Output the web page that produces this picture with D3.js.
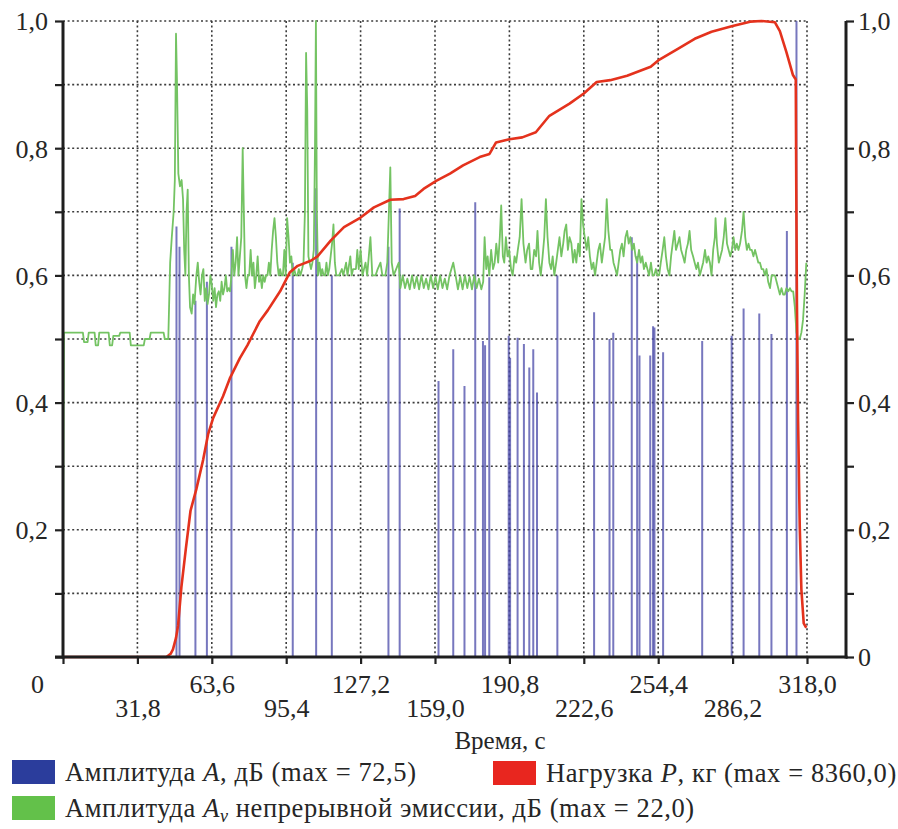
<!DOCTYPE html>
<html>
<head>
<meta charset="utf-8">
<script src="https://cdn.jsdelivr.net/npm/d3@7"></script>
<style>
  svg#chart text, svg#chart tspan { font-family: "Liberation Serif", "Times New Roman", serif !important; }
</style>
</head>
<body style="margin:0">
<svg id="chart" width="898" height="829"></svg>
<script>
// x ticks (time, s) and y ticks (normalized)
const xTicks = [0, 31.8, 63.6, 95.4, 127.2, 159.0, 190.8, 222.6, 254.4, 286.2, 318.0];
const xTickLabels = ["0", "31,8", "63,6", "95,4", "127,2", "159,0", "190,8", "222,6", "254,4", "286,2", "318,0"];
const yTicks = [0, 0.1, 0.2, 0.3, 0.4, 0.5, 0.6, 0.7, 0.8, 0.9, 1.0];
const yTickLabels = ["0", "", "0,2", "", "0,4", "", "0,6", "", "0,8", "", "1,0"];

// Amplitude A hits: [time, normalized amplitude]
const hits = [
  [48.5, 0.677], [49.8, 0.645], [56.6, 0.56], [61.5, 0.59], [72.0, 0.645],
  [98.2, 0.62], [108.2, 0.737], [114.9, 0.6], [139.1, 0.645], [143.9, 0.705],
  [160.5, 0.434], [166.8, 0.484], [171.6, 0.426], [176.2, 0.715], [179.5, 0.497],
  [180.4, 0.49], [182.2, 0.597], [190.5, 0.505], [191.1, 0.47], [194.3, 0.502],
  [197.0, 0.492], [199.3, 0.455], [201.0, 0.484], [202.6, 0.416], [211.3, 0.6],
  [227.0, 0.542], [233.6, 0.5], [235.2, 0.51], [243.1, 0.66], [245.4, 0.63],
  [246.4, 0.474], [251.0, 0.474], [252.2, 0.52], [252.8, 0.518], [256.5, 0.479],
  [273.2, 0.497], [285.8, 0.505], [290.9, 0.548], [297.6, 0.54], [302.8, 0.508],
  [309.4, 0.67], [313.5, 1.0]
];

// Load P: [time, normalized load]
const load = [
  [0, 0], [44.2, 0], [46, 0.005], [47, 0.012], [48.3, 0.03], [49.2, 0.05],
  [50.6, 0.11], [52.5, 0.17], [54.5, 0.23], [57, 0.264], [59.9, 0.31],
  [62, 0.35], [64.2, 0.376], [68.4, 0.41], [71.3, 0.438], [75.6, 0.47],
  [78.8, 0.49], [84.1, 0.528], [87.5, 0.545], [92.8, 0.575], [97, 0.605],
  [100.3, 0.615], [105.9, 0.623], [108.8, 0.63], [114.5, 0.655], [120.1, 0.676],
  [127.2, 0.691], [132.9, 0.707], [139.9, 0.719], [145.6, 0.72], [150.5, 0.725],
  [154.1, 0.736], [159.7, 0.749], [165.4, 0.76], [171, 0.773], [178.1, 0.786],
  [182.3, 0.791], [185.1, 0.809], [190.8, 0.814], [196.3, 0.817], [202.1, 0.825],
  [207.9, 0.851], [216.5, 0.87], [222.6, 0.886], [228.1, 0.904], [233.9, 0.907],
  [241.1, 0.914], [251.2, 0.928], [254.4, 0.938], [262.8, 0.956], [270, 0.972],
  [277.2, 0.983], [286.2, 0.992], [293.7, 0.999], [298.6, 1.0], [304.3, 0.998],
  [306.4, 0.984], [309.2, 0.951], [312, 0.915], [313.2, 0.908], [313.4, 0.746],
  [313.7, 0.555], [314.2, 0.37], [314.9, 0.205], [315.6, 0.106], [316.6, 0.053],
  [317.7, 0.046]
];

// Continuous emission amplitude Av: [time, normalized amplitude]
const emission = [
  [0, 0.14], [0.4, 0.51], [8.5, 0.51], [9, 0.495], [10.5, 0.495], [11, 0.51],
  [13.5, 0.51], [14, 0.49], [15, 0.49], [15.5, 0.51], [19.5, 0.51], [20, 0.49],
  [21, 0.49], [21.5, 0.505], [24, 0.505], [24.5, 0.51], [28.5, 0.51], [29, 0.49],
  [34.5, 0.49], [35, 0.5], [37, 0.5], [37.5, 0.51], [43, 0.51], [43.5, 0.5],
  [45, 0.5], [45.8, 0.62], [46.5, 0.66], [47.3, 0.7], [47.8, 0.75], [48.3, 0.98],
  [48.7, 0.91], [49.3, 0.76], [50, 0.74], [50.7, 0.75], [51.3, 0.72], [51.8, 0.64],
  [52.3, 0.6], [52.8, 0.7], [53.3, 0.735], [53.8, 0.6], [54.3, 0.55], [55, 0.54],
  [55.6, 0.57], [56.2, 0.555], [57, 0.6], [57.6, 0.62], [58.2, 0.59], [58.8, 0.57],
  [59.4, 0.6], [60, 0.61], [60.6, 0.56], [61.2, 0.58], [61.8, 0.555], [62.4, 0.57],
  [63, 0.6], [63.6, 0.585], [64.2, 0.56], [64.8, 0.58], [65.4, 0.55], [66, 0.57],
  [66.6, 0.575], [67.2, 0.56], [67.8, 0.59], [68.4, 0.57], [69, 0.58], [69.6, 0.6],
  [70.2, 0.575], [70.8, 0.58], [71.4, 0.575], [72, 0.6], [72.6, 0.64], [73.2, 0.6],
  [73.8, 0.62], [74.4, 0.66], [75, 0.6], [75.6, 0.63], [76.2, 0.66], [76.8, 0.8],
  [77.3, 0.7], [77.8, 0.6], [78.4, 0.58], [79, 0.6], [79.6, 0.6], [80.2, 0.64],
  [80.8, 0.6], [81.4, 0.62], [82, 0.58], [82.6, 0.6], [83.2, 0.63], [83.8, 0.59],
  [84.4, 0.6], [85, 0.58], [85.6, 0.6], [86.2, 0.59], [86.8, 0.6], [87.4, 0.6],
  [88, 0.62], [88.6, 0.6], [89.2, 0.64], [89.8, 0.67], [90.4, 0.69], [91, 0.66],
  [91.6, 0.62], [92.2, 0.6], [92.8, 0.61], [93.4, 0.6], [94, 0.6], [94.6, 0.64],
  [95.2, 0.6], [95.8, 0.69], [96.4, 0.66], [97, 0.62], [97.6, 0.63], [98.2, 0.6],
  [98.8, 0.61], [99.5, 0.6], [100.2, 0.6], [100.8, 0.61], [101.5, 0.6], [102.2, 0.61],
  [102.8, 0.62], [103.4, 0.7], [103.9, 0.95], [104.4, 0.86], [104.9, 0.63],
  [105.4, 0.62], [106, 0.61], [106.6, 0.62], [107.2, 0.64], [107.7, 0.8], [108.1, 1.0],
  [108.5, 0.7], [109, 0.6], [109.6, 0.62], [110.2, 0.6], [110.8, 0.61], [111.4, 0.6],
  [112, 0.6], [112.6, 0.62], [113.2, 0.6], [113.8, 0.61], [114.4, 0.63], [115, 0.65],
  [115.6, 0.68], [116.2, 0.62], [116.8, 0.6], [118, 0.6], [119.2, 0.61], [119.8, 0.6],
  [121, 0.62], [121.6, 0.6], [122.8, 0.63], [123.4, 0.6], [124, 0.61], [125.2, 0.61],
  [125.8, 0.64], [126.4, 0.61], [127.2, 0.64], [128, 0.6], [129.3, 0.62], [130, 0.6],
  [131.4, 0.66], [132.2, 0.6], [133.6, 0.6], [134.5, 0.61], [135.7, 0.62], [136.5, 0.6],
  [137.8, 0.6], [138.6, 0.62], [139.3, 0.7], [139.9, 0.77], [140.5, 0.62], [141.3, 0.6],
  [142.4, 0.61], [143.5, 0.62], [144.2, 0.58], [145.2, 0.6], [146.2, 0.58], [147.2, 0.595],
  [148.2, 0.578], [149.2, 0.6], [150.2, 0.58], [151.2, 0.598], [152.2, 0.578], [153.2, 0.6],
  [154.2, 0.58], [155.2, 0.595], [156.2, 0.578], [157.2, 0.6], [158.2, 0.58], [159.2, 0.598],
  [160.2, 0.578], [161.2, 0.6], [162.2, 0.58], [163.2, 0.595], [164.2, 0.578], [165.2, 0.6],
  [166.8, 0.62], [167.8, 0.6], [168.8, 0.578], [169.8, 0.598], [170.8, 0.578], [171.8, 0.6],
  [172.8, 0.58], [173.8, 0.598], [174.8, 0.578], [175.8, 0.6], [176.8, 0.58], [177.8, 0.595],
  [178.8, 0.578], [179.6, 0.59], [180.2, 0.66], [180.9, 0.61], [181.5, 0.63], [182.2, 0.6],
  [183, 0.64], [183.8, 0.61], [184.5, 0.62], [185.2, 0.65], [186, 0.62], [186.7, 0.66],
  [187.3, 0.71], [188, 0.63], [188.6, 0.62], [189.3, 0.66], [190, 0.63], [190.7, 0.64],
  [191.5, 0.61], [192.2, 0.6], [193, 0.63], [193.7, 0.62], [194.4, 0.64], [195.2, 0.66],
  [196, 0.72], [196.8, 0.65], [197.7, 0.62], [198.4, 0.64], [199.2, 0.65], [199.9, 0.61],
  [200.6, 0.61], [201.4, 0.64], [202.2, 0.63], [202.8, 0.67], [203.5, 0.62], [204.2, 0.6],
  [205, 0.63], [205.7, 0.66], [206.4, 0.72], [207.1, 0.66], [207.9, 0.62], [208.6, 0.61],
  [209.3, 0.63], [210, 0.6], [210.8, 0.62], [211.5, 0.64], [212.2, 0.66], [213, 0.63],
  [213.8, 0.65], [214.4, 0.67], [215.1, 0.68], [215.8, 0.64], [216.5, 0.66], [217.3, 0.65],
  [218, 0.62], [218.7, 0.64], [219.4, 0.62], [220.2, 0.65], [220.9, 0.63], [221.6, 0.72],
  [222.3, 0.68], [223, 0.66], [223.8, 0.64], [224.5, 0.66], [225.2, 0.63], [226, 0.61],
  [226.7, 0.62], [227.4, 0.6], [228.1, 0.62], [228.8, 0.64], [229.5, 0.65], [230.3, 0.62],
  [231, 0.64], [231.7, 0.66], [232.4, 0.72], [233.1, 0.67], [233.9, 0.64], [234.6, 0.64],
  [235.3, 0.62], [236.1, 0.61], [236.8, 0.6], [237.5, 0.62], [238.2, 0.64], [238.9, 0.65],
  [239.6, 0.63], [240.4, 0.66], [241.1, 0.67], [241.8, 0.65], [242.5, 0.66], [243.3, 0.64],
  [244, 0.65], [244.7, 0.63], [245.4, 0.62], [246.2, 0.64], [246.9, 0.62], [247.6, 0.63],
  [248.3, 0.61], [249.1, 0.62], [249.8, 0.61], [250.5, 0.6], [251.3, 0.62], [252, 0.6],
  [252.7, 0.6], [253.4, 0.61], [254.1, 0.6], [254.8, 0.6], [255.5, 0.62], [256.3, 0.64],
  [257, 0.66], [257.7, 0.63], [258.4, 0.61], [259.2, 0.6], [259.9, 0.63], [260.6, 0.65],
  [261.3, 0.67], [262, 0.64], [262.8, 0.65], [263.5, 0.66], [264.2, 0.64], [265, 0.63],
  [265.7, 0.62], [266.4, 0.64], [267.1, 0.65], [267.8, 0.67], [268.5, 0.64], [269.3, 0.63],
  [270, 0.62], [270.7, 0.61], [271.4, 0.62], [272.2, 0.6], [272.9, 0.61], [273.6, 0.62],
  [274.4, 0.64], [275.1, 0.62], [275.8, 0.63], [276.5, 0.62], [277.2, 0.6], [277.9, 0.64],
  [278.6, 0.66], [278.9, 0.69], [279.5, 0.65], [280.3, 0.62], [281, 0.63], [281.7, 0.64],
  [282.4, 0.66], [283.1, 0.69], [283.8, 0.65], [284.5, 0.64], [285.2, 0.63], [285.9, 0.64],
  [286.6, 0.66], [287.3, 0.64], [288, 0.65], [288.7, 0.64], [289.4, 0.65], [290.2, 0.67],
  [290.9, 0.7], [291.6, 0.66], [292.3, 0.64], [293, 0.65], [293.7, 0.64], [294.4, 0.64],
  [295.1, 0.63], [295.8, 0.64], [296.5, 0.63], [297.2, 0.62], [297.9, 0.62], [298.6, 0.61],
  [299.3, 0.61], [300, 0.6], [300.7, 0.61], [301.4, 0.59], [302.2, 0.58], [302.9, 0.6],
  [303.6, 0.6], [304.3, 0.6], [305, 0.59], [305.7, 0.58], [306.4, 0.57], [307.1, 0.58],
  [307.8, 0.57], [308.5, 0.57], [309.2, 0.58], [310, 0.575], [310.7, 0.58], [311.4, 0.575],
  [312.1, 0.575], [312.8, 0.55], [313.5, 0.51], [314.2, 0.5], [314.9, 0.5], [315.6, 0.51],
  [316.3, 0.53], [317, 0.57], [317.7, 0.62]
];

const FONT = "Liberation Serif";
const INK = "#262626";

const svg = d3.select("#chart");

// scales: grid spans 0..318 s, right axis stands a bit further right
const x = d3.scaleLinear().domain([0, 318]).range([63, 807]);
const y = d3.scaleLinear().domain([0, 1]).range([657, 21]);
const rightAxisX = 846;

const fmtY = (d, i) => yTickLabels[i];

//dotted grid
const grid = svg.append("g").attr("class", "grid")
  .attr("stroke", "#3c3c3c").attr("stroke-width", 1.6)
  .attr("stroke-dasharray", "2,2.6");

grid.selectAll(".h").data(yTicks.slice(1)).join("line")
  .attr("x1", x(0)).attr("x2", x(318))
  .attr("y1", d => y(d)).attr("y2", d => y(d));

grid.selectAll(".v").data(xTicks.slice(1)).join("line")
  .attr("x1", d => x(d)).attr("x2", d => x(d))
  .attr("y1", y(1)).attr("y2", y(0));

//amplitude hits as thin vertical bars
svg.append("g").selectAll("line").data(hits).join("line")
  .attr("x1", d => x(d[0])).attr("x2", d => x(d[0]))
  .attr("y1", y(0)).attr("y2", d => y(d[1]))
  .attr("stroke", "#4a4aa8").attr("stroke-width", 2).attr("stroke-opacity", 0.75);

const line = d3.line().x(d => x(d[0])).y(d => y(d[1]));

svg.append("path").datum(emission)
  .attr("d", line).attr("fill", "none")
  .attr("stroke", "#74c363").attr("stroke-width", 1.8).attr("stroke-linejoin", "round");

svg.append("path").datum(load)
  .attr("d", line).attr("fill", "none")
  .attr("stroke", "#e4321d").attr("stroke-width", 2.6).attr("stroke-linejoin", "round");

//axes
const axisStyle = g => {
  g.attr("font-family", FONT).attr("font-size", 26);
  g.select(".domain").remove();
  g.selectAll(".tick line").attr("stroke", "#222").attr("stroke-width", 2.2);
  g.selectAll(".tick text").attr("fill", INK);
};

svg.append("g")
  .attr("transform", `translate(${x(0)},0)`)
  .call(d3.axisLeft(y).tickValues(yTicks).tickSize(8).tickPadding(7)
    .tickFormat((d, i) => (i === 0 ? "" : fmtY(d, i))))
  .call(axisStyle)
  .call(g => g.selectAll(".tick text").attr("dy", "0.34em"));

svg.append("g")
  .attr("transform", `translate(${rightAxisX},0)`)
  .call(d3.axisRight(y).tickValues(yTicks).tickSize(8).tickPadding(4).tickFormat(fmtY))
  .call(axisStyle)
  .call(g => g.selectAll(".tick text").attr("dy", "0.34em"));

svg.append("g")
  .attr("transform", `translate(0,${y(0)})`)
  .call(d3.axisBottom(x).tickValues(xTicks).tickSize(7)
    .tickFormat((d, i) => xTickLabels[i]))
  .call(axisStyle)
  .call(g => g.selectAll(".tick text")
    .attr("dy", 0)
    .attr("y", (d, i) => (i % 2 === 0 ? 36 : 60))
    .attr("dx", (d, i) => (i === 0 ? -26 : 0)));

// axis lines drawn separately so the bottom one runs out to the right axis
const axisLines = svg.append("g").attr("stroke", "#1e1e1e").attr("stroke-width", 3);
axisLines.append("line").attr("x1", x(0)).attr("x2", x(0)).attr("y1", y(1)).attr("y2", y(0) + 1.5);
axisLines.append("line").attr("x1", rightAxisX).attr("x2", rightAxisX).attr("y1", y(1)).attr("y2", y(0) + 1.5);
axisLines.append("line").attr("x1", x(0) - 8).attr("x2", rightAxisX + 1.5).attr("y1", y(0)).attr("y2", y(0));

svg.append("text")
  .attr("x", 500).attr("y", 749)
  .attr("text-anchor", "middle").attr("font-size", 25).attr("fill", INK)
  .text("Время, с");

//legend
const legend = svg.append("g");

const addItem = (lx, ly, color, parts) => {
  legend.append("rect").attr("x", lx).attr("y", ly - 12).attr("width", 43).attr("height", 24)
    .attr("fill", color);
  const t = legend.append("text").attr("x", lx + 53).attr("y", ly + 9)
    .attr("font-size", 26.5).attr("fill", INK).attr("letter-spacing", 0.6);
  parts.forEach(p => {
    const s = t.append("tspan").text(p.text);
    if (p.italic) s.attr("font-style", "italic");
    if (p.sub) s.attr("font-size", 18).attr("baseline-shift", "-25%");
  });
};

addItem(12, 772, "#2b3d9c", [
  { text: "Амплитуда " }, { text: "A", italic: true }, { text: ", дБ (max = 72,5)" }
]);
addItem(493, 773, "#e8261f", [
  { text: "Нагрузка " }, { text: "P", italic: true }, { text: ", кг (max = 8360,0)" }
]);
addItem(12, 808, "#63c14a", [
  { text: "Амплитуда " }, { text: "A", italic: true }, { text: "v", italic: true, sub: true },
  { text: " непрерывной эмиссии, дБ (max = 22,0)" }
]);

// serif face forced on every text node
svg.selectAll("text, tspan")
  .each(function () { this.style.setProperty("font-family", `"${FONT}", serif`, "important"); });
</script>
</body>
</html>
